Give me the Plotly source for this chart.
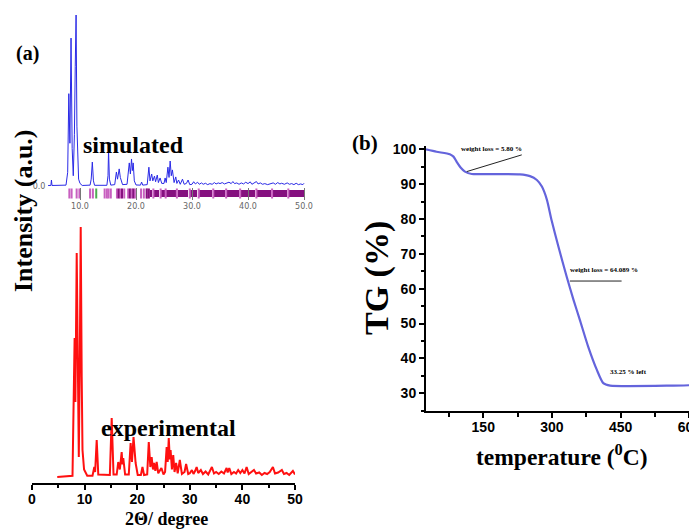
import plotly.graph_objects as go

W, H = 697, 529
OX, OY = 8, 8  # page body margin in the browser

# ---------------- data ----------------
# simulated XRD pattern (2theta, relative intensity)
sim_x = [4.3, 4.8, 4.9, 5.0, 7.5, 7.8, 8.0, 8.2, 8.4, 8.6, 8.8, 9.0, 9.15, 9.3, 9.45, 9.6, 9.75, 10.0, 10.4,
         11.8, 12.0, 12.2, 12.4, 12.6, 14.8, 15.0, 15.1, 15.25, 15.5, 16.2, 16.5, 16.7, 17.0, 17.2, 17.3, 17.6,
         18.4, 18.6, 18.8, 19.0, 19.2, 19.35, 19.5, 19.7, 20.0, 20.8, 21.0, 21.2, 22.0, 22.3, 22.5, 22.8, 23.0,
         23.3, 23.5, 23.8, 24.0, 24.3, 24.6, 25.0, 25.2, 25.4, 25.7, 25.9, 26.1, 26.3, 26.5, 26.8, 27.1, 27.3,
         27.6, 27.9, 28.3, 28.6, 29.0, 29.3, 29.6,
         30.0, 30.3, 30.6, 31.0, 31.3, 31.7, 32.0, 32.4, 32.8, 33.2, 33.6, 34.0, 34.3, 34.7, 35.0, 35.4, 35.8,
         36.2, 36.6, 37.0, 37.3, 37.6, 38.0, 38.4, 38.8, 39.2, 39.6, 40.0, 40.4, 40.7, 41.1, 41.5, 41.8, 42.2,
         42.6, 43.0, 43.5, 44.0, 44.5, 44.9, 45.3, 45.7, 46.0, 46.5, 47.0, 47.4, 47.8, 48.2, 48.6, 49.0, 49.4,
         49.8, 50.0]
sim_y = [0.3, 0.3, 3.5, 0.3, 0.5, 8.0, 54.0, 25.0, 86.5, 22.0, 6.0, 30.0, 70.0, 100.0, 35.0, 9.4, 4.0, 1.5, 0.3,
         0.5, 4.0, 14.0, 3.0, 0.4, 0.4, 6.0, 21.0, 4.0, 0.5, 0.8, 8.2, 4.0, 10.0, 5.0, 3.5, 0.8,
         1.0, 6.0, 13.5, 7.0, 15.8, 9.0, 13.5, 3.0, 0.6, 0.5, 2.3, 0.5, 0.8, 11.0, 3.0, 7.0, 3.0,
         5.8, 2.5, 6.4, 2.0, 4.7, 1.5, 1.5, 4.7, 2.0, 11.0, 5.0, 14.6, 6.0, 9.4, 2.0, 5.3, 1.5,
         3.5, 1.0, 4.0, 1.0, 1.5, 3.5, 0.8,
         1.0, 2.5, 1.2, 2.2, 1.0, 1.8, 1.0, 1.6, 0.8, 1.4, 1.0, 2.0, 1.2, 1.8, 1.4, 2.0, 1.2,
         1.6, 2.2, 1.4, 2.6, 1.4, 1.8, 1.0, 1.8, 1.2, 2.2, 1.4, 2.4, 1.0, 1.6, 2.6, 1.2, 1.8,
         1.0, 1.4, 0.8, 1.2, 1.8, 1.0, 2.0, 1.2, 1.6, 1.0, 1.8, 1.0, 1.4, 0.8, 1.6, 0.8, 1.2,
         0.8, 1.6]

# calculated reflection positions (2theta)
bragg_light = [8.1, 8.5, 9.4, 9.9, 11.8, 12.3, 14.4, 14.8, 15.1, 15.5, 16.6, 17.2, 17.9, 18.6, 19.2, 19.8,
               20.9, 21.4, 22.0, 23.1, 24.4, 25.3, 27.3, 29.6, 31.2, 33.8, 36.1, 38.6, 41.5, 44.3, 47.2]
bragg_green = [12.9]
bragg_dark = [16.9, 17.5, 18.9, 19.5, 21.9, 22.3]
bragg_band_start = [22.5, 23.3, 24.6, 25.5, 27.5, 29.8, 31.4, 34.0, 36.3, 38.8, 41.7, 44.5, 47.4]
bragg_band_end = [23.0, 24.2, 25.2, 27.2, 29.4, 31.0, 33.6, 35.9, 38.4, 41.3, 44.1, 47.0, 50.0]

# experimental XRD pattern
exp_x = [4.8, 7.7, 8.1, 8.25, 8.5, 8.7, 8.9, 9.1, 9.26, 9.45, 9.6, 9.9, 10.5, 11.5, 11.85, 12.0, 12.3, 12.6,
         14.8, 15.15, 15.5, 16.1, 16.4, 16.7, 17.05, 17.2, 17.35, 17.7, 18.4, 18.75, 19.0, 19.3, 19.5, 19.7,
         20.1, 20.7, 21.0, 21.3, 21.9, 22.2, 22.5, 22.75, 23.0, 23.2, 23.45, 23.7, 24.0, 24.6, 25.0, 25.3,
         25.6, 25.8, 26.0, 26.2, 26.35, 26.6, 26.85, 27.1, 27.4, 27.7, 28.1, 28.5, 29.0, 29.3, 29.7,
         30.0, 30.4, 30.7, 31.0, 31.3, 31.6, 32.1, 32.5, 33.0, 33.5, 34.2, 34.6, 35.0, 35.5, 36.0, 36.5,
         37.0, 37.2, 37.5, 37.9, 38.4, 38.8, 39.2, 39.6, 40.0, 40.4, 40.8, 41.2, 41.7, 42.2, 42.6, 43.2,
         43.7, 44.2, 44.7, 45.2, 45.8, 46.2, 46.8, 47.5, 47.9, 48.4, 48.9, 49.3, 49.6, 50.0]
exp_y = [0.0, 0.5, 55.6, 30.0, 89.6, 30.0, 8.0, 50.0, 100.0, 40.0, 10.8, 3.0, 0.5, 0.5, 4.0, 2.0, 14.8, 1.0,
         0.8, 23.6, 1.0, 1.0, 6.0, 3.0, 10.0, 5.0, 7.6, 1.0, 1.0, 13.6, 6.0, 16.0, 8.0, 5.6,
         0.8, 0.8, 4.0, 0.8, 1.0, 14.0, 4.0, 8.0, 3.0, 5.6, 2.5, 6.0, 1.5, 3.6, 1.0, 2.0,
         12.0, 6.0, 15.6, 7.0, 10.8, 3.0, 8.8, 2.0, 5.6, 1.5, 6.8, 1.2, 2.0, 5.2, 1.2,
         1.5, 2.8, 1.2, 2.4, 4.0, 1.6, 2.8, 1.2, 2.2, 1.0, 4.0, 1.4, 2.0, 1.2, 2.2, 1.4,
         3.6, 1.8, 3.6, 1.2, 2.0, 1.4, 2.8, 1.6, 2.8, 1.4, 4.0, 1.2, 2.0, 2.8, 1.4, 1.8,
         0.8, 1.6, 1.2, 2.0, 4.0, 1.4, 1.8, 2.8, 1.2, 1.6, 0.8, 1.6, 2.4, 1.0]

# TG curve (temperature in degC, mass %)
tg_t = [25, 48, 77, 85, 92, 101, 110, 125, 165, 230, 252, 267, 278, 289, 299, 314, 332, 347, 361, 379,
        398, 412, 427, 565, 600]
tg_w = [100.0, 99.3, 98.6, 97.9, 96.4, 94.7, 93.6, 92.9, 92.9, 92.8, 92.3, 91.2, 89.3, 85.5, 79.7, 72.1,
        63.5, 56.8, 51.0, 43.4, 36.7, 32.9, 32.2, 32.2, 32.3]


# ---------------- figure ----------------
def px(x):
    return (x - OX) / W


def py(y):
    return 1 - (y - OY) / H


SERIF = "Liberation Serif"
SANS = "Liberation Sans"

fig = go.Figure()

fig.add_trace(go.Scatter(x=sim_x, y=sim_y, mode="lines", line=dict(color="#2a2ae6", width=1),
                         xaxis="x", yaxis="y", hoverinfo="skip"))
# Bragg band segments (dense reflections)
fig.add_trace(go.Bar(x=[(s + e) / 2 for s, e in zip(bragg_band_start, bragg_band_end)],
                     width=[e - s for s, e in zip(bragg_band_start, bragg_band_end)],
                     y=[4.1] * len(bragg_band_start), base=-6.44,
                     marker=dict(color="#85107f", line=dict(width=0)), xaxis="x", yaxis="y"))
TICK_ROW = -4.39
for vals, col in [(bragg_light, "#c860c0"), (bragg_dark, "#86107f"), (bragg_green, "#4caf50")]:
    fig.add_trace(go.Scatter(x=vals, y=[TICK_ROW] * len(vals), mode="markers",
                             marker=dict(symbol="line-ns", size=7, line=dict(color=col, width=2)),
                             xaxis="x", yaxis="y", hoverinfo="skip"))

fig.add_trace(go.Scatter(x=exp_x, y=exp_y, mode="lines", line=dict(color="#ff1010", width=2),
                         xaxis="x2", yaxis="y2", hoverinfo="skip"))
fig.add_trace(go.Scatter(x=tg_t, y=tg_w, mode="lines",
                         line=dict(color="#6464dc", width=2.2, shape="spline", smoothing=0.6),
                         xaxis="x3", yaxis="y3", hoverinfo="skip"))

fig.update_layout(
    width=W, height=H, autosize=False, showlegend=False,
    margin=dict(l=0, r=0, t=0, b=0, pad=0, autoexpand=False),
    paper_bgcolor="white", plot_bgcolor="rgba(0,0,0,0)",
    bargap=0,
    xaxis=dict(domain=[px(46.4), px(306.8)], range=[4, 50.5], anchor="y", automargin=False,
               tickvals=[10, 20, 30, 40, 50], ticktext=["10.0", "20.0", "30.0", "40.0", "50.0"],
               ticks="inside", ticklen=12, tickcolor="#777", tickwidth=1,
               tickfont=dict(family="DejaVu Sans", size=8, color="#666"),
               showgrid=False, zeroline=False, showline=False),
    yaxis=dict(domain=[py(200), py(15)], range=[-8.19, 100], anchor="x", automargin=False,
               tickvals=[0], ticktext=["0.0"], ticks="",
               tickfont=dict(family="DejaVu Sans", size=8, color="#666"),
               showgrid=False, zeroline=False, showline=False),
    xaxis2=dict(domain=[px(32), px(295)], range=[0, 50], anchor="y2", automargin=False,
                dtick=10, tick0=0, ticks="outside", ticklen=5, tickwidth=2, tickcolor="black",
                minor=dict(dtick=5, tick0=0, ticks="outside", ticklen=3, tickwidth=2, tickcolor="black"),
                showline=True, linewidth=2, linecolor="black", ticklabelstandoff=-3,
                tickfont=dict(family=SANS, size=14, color="black", weight="bold"),
                showgrid=False, zeroline=False),
    yaxis2=dict(domain=[py(483), py(220)], range=[-2.4, 102.8], anchor="x2", automargin=False,
                showticklabels=False, ticks="", showgrid=False, zeroline=False, showline=False),
    xaxis3=dict(domain=[px(426), px(689.4)], range=[25, 600], anchor="y3", automargin=False,
                tickvals=[150, 300, 450, 600], ticks="outside", ticklen=5, tickwidth=2, tickcolor="black",
                minor=dict(tickvals=[75, 225, 375, 525], ticks="outside", ticklen=4, tickwidth=2,
                           tickcolor="black"),
                showline=True, linewidth=2, linecolor="black", ticklabelstandoff=-3,
                tickfont=dict(family=SANS, size=14, color="black", weight="bold"),
                showgrid=False, zeroline=False),
    yaxis3=dict(domain=[py(410.7), py(145.8)], range=[25, 101], anchor="x3", automargin=False,
                dtick=10, tick0=0, ticks="outside", ticklen=5, tickwidth=2, tickcolor="black",
                minor=dict(dtick=5, tick0=0, ticks="outside", ticklen=3, tickwidth=2, tickcolor="black"),
                showline=True, linewidth=2, linecolor="black",
                tickfont=dict(family=SANS, size=14, color="black", weight="bold"),
                showgrid=False, zeroline=False),
)

# leader lines for TG annotations
fig.add_shape(type="line", xref="x3", yref="y3", x0=114, y0=93.6, x1=234, y1=98.4,
              line=dict(color="#222", width=1))
fig.add_shape(type="line", xref="x3", yref="y3", x0=339, y0=62.2, x1=452, y1=62.2,
              line=dict(color="#222", width=1))


def label(text, x, y, size, family=SERIF, angle=0, color="black", weight="bold"):
    fig.add_annotation(text=text, xref="paper", yref="paper", x=px(x), y=py(y),
                       xanchor="center", yanchor="middle", showarrow=False, textangle=angle,
                       font=dict(family=family, size=size, color=color, weight=weight))


label("(a)", 27, 54, 20)
label("(b)", 365, 143, 21)
label("Intensity (a.u.)", 23, 211, 26, angle=-90)
label("simulated", 133, 145, 24)
label("experimental", 168, 428, 24)
label("2Θ/ degree", 166, 519, 18)
label("TG (%)", 377, 278, 34, angle=-90)
label("temperature (<sup>0</sup>C)", 562, 455, 23.5)
label("weight loss = 5.80 %", 491, 149, 7)
label("weight loss = 64.089 %", 604, 270, 7)
label("33.25 % left", 628, 372, 7)

fig.write_html("out.html")
